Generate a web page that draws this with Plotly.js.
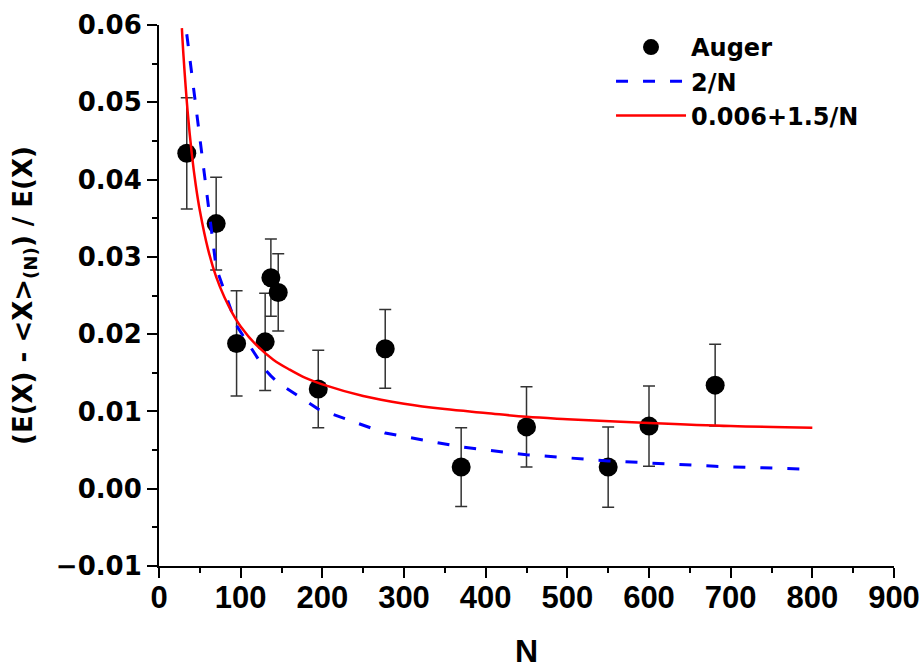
<!DOCTYPE html>
<html>
<head>
<meta charset="utf-8">
<script src="https://cdn.plot.ly/plotly-3.0.1.min.js"></script>
<style>html,body{margin:0;padding:0;background:#fff;}#chart{width:921px;height:669px;}</style>
</head>
<body>
<div id="chart"></div>
<script>
// Auger data points
const augerN   = [34, 70, 95, 130, 137, 146, 195, 277, 370, 450, 550, 600, 681];
const augerY   = [0.0434, 0.0343, 0.0188, 0.0190, 0.0273, 0.0254, 0.0129, 0.0181, 0.0028, 0.0080, 0.0028, 0.0081, 0.0134];
const augerErr = [0.0072, 0.0060, 0.0068, 0.0063, 0.0050, 0.0050, 0.0050, 0.0051, 0.0051, 0.0052, 0.0052, 0.0052, 0.0053];

// 2/N curve
const curve1N = [34, 70, 95, 130, 137, 146, 195, 277, 370, 450, 550, 600, 681, 800];
const curve1Y = [0.0588, 0.0286, 0.0211, 0.0154, 0.0146, 0.0137, 0.0103, 0.0072, 0.0054, 0.0044, 0.0036, 0.0033, 0.0029, 0.0025];

// 0.006+1.5/N curve
const curve2N = [28, 30, 35, 40, 45, 50, 60, 70, 80, 90, 100, 120, 140, 160, 180, 200, 250, 300, 350, 400, 450, 500, 600, 700, 800];
const curve2Y = [0.0596, 0.0560, 0.0489, 0.0435, 0.0393, 0.0360, 0.0310, 0.0274, 0.0248, 0.0227, 0.0210, 0.0185, 0.0167, 0.0154, 0.0143, 0.0135, 0.0120, 0.0110, 0.0103, 0.0098, 0.0093, 0.0090, 0.0085, 0.0081, 0.0079];

const legendNames = ['Auger', '2/N', '0.006+1.5/N'];

const FONT = 'Liberation Sans, Arial, Helvetica, sans-serif';
const FONT_WIDE = 'DejaVu Sans, Verdana, sans-serif';

const traces = [
  {
    x: augerN, y: augerY, name: legendNames[0], type: 'scatter', mode: 'markers',
    marker: {color: '#000', size: 19},
    error_y: {type: 'data', array: augerErr, visible: true, color: '#333', thickness: 1.5, width: 6}
  },
  {
    x: curve1N, y: curve1Y, name: legendNames[1], type: 'scatter', mode: 'lines',
    line: {color: '#0000ff', width: 3, dash: '12px,15px'}
  },
  {
    x: curve2N, y: curve2Y, name: legendNames[2], type: 'scatter', mode: 'lines',
    line: {color: '#ff0000', width: 2.5, shape: 'spline'}
  }
];

const axisCommon = {
  showline: true, linecolor: '#000', linewidth: 2,
  ticks: 'outside', ticklen: 10, tickwidth: 2, tickcolor: '#000',
  showgrid: false, zeroline: false, mirror: false
};

const layout = {
  width: 921, height: 669,
  margin: {l: 159, r: 27, t: 25, b: 103},
  paper_bgcolor: '#fff', plot_bgcolor: '#fff',
  showlegend: true,
  legend: {
    x: 0.615, xanchor: 'left', y: 1.0, yanchor: 'top',
    bgcolor: 'rgba(0,0,0,0)', borderwidth: 0,
    itemwidth: 70,
    font: {family: FONT_WIDE, size: 24, color: '#000', weight: 'bold'}
  },
  xaxis: Object.assign({}, axisCommon, {
    range: [0, 900], dtick: 100, tick0: 0,
    tickfont: {family: FONT, size: 31, color: '#000', weight: 'bold'},
    ticklabelstandoff: -7,
    minor: {dtick: 50, ticklen: 5, tickwidth: 2, tickcolor: '#000', ticks: 'outside'},
    title: {text: 'N', font: {family: FONT, size: 32, color: '#000', weight: 'bold'}, standoff: 28}
  }),
  yaxis: Object.assign({}, axisCommon, {
    range: [-0.01, 0.06], dtick: 0.01, tick0: 0, tickformat: '.2f',
    tickfont: {family: FONT_WIDE, size: 26, color: '#000', weight: 'bold'},
    minor: {dtick: 0.005, ticklen: 5, tickwidth: 2, tickcolor: '#000', ticks: 'outside'},
    title: {text: '(E(X) - <X><sub>(N)</sub>) / E(X)', font: {family: FONT_WIDE, size: 26, color: '#000', weight: 'bold'}, standoff: 16}
  })
};

Plotly.newPlot('chart', traces, layout, {displayModeBar: false, staticPlot: true});
</script>
</body>
</html>
